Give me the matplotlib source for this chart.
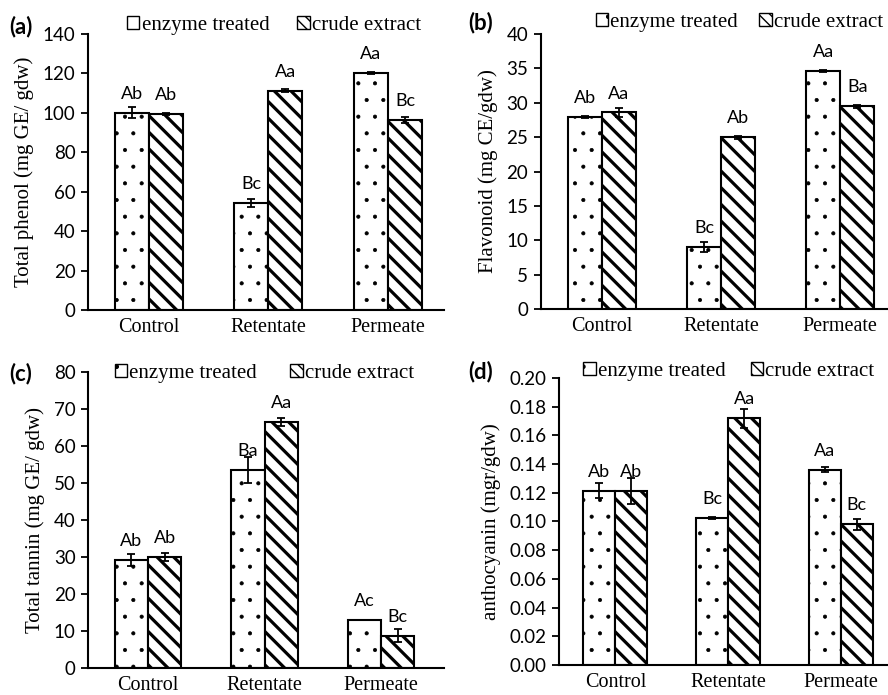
import matplotlib
matplotlib.use('Agg')
import matplotlib.pyplot as plt
import numpy as np
from matplotlib.patches import Rectangle
from matplotlib.ticker import FormatStrFormatter

categories = ['Control', 'Retentate', 'Permeate']
series_names = ['enzyme treated', 'crude extract']

phenol_enz = [100.0, 54.3, 120.2]
phenol_enz_err = [2.8, 1.8, 0.4]
phenol_crude = [99.3, 111.3, 96.5]
phenol_crude_err = [0.4, 0.8, 1.6]
phenol_lbl_enz = ['Ab', 'Bc', 'Aa']
phenol_lbl_crude = ['Ab', 'Aa', 'Bc']

flav_enz = [28.0, 9.0, 34.6]
flav_enz_err = [0.15, 0.7, 0.1]
flav_crude = [28.6, 25.0, 29.5]
flav_crude_err = [0.6, 0.2, 0.2]
flav_lbl_enz = ['Ab', 'Bc', 'Aa']
flav_lbl_crude = ['Aa', 'Ab', 'Ba']

tannin_enz = [29.2, 53.5, 13.0]
tannin_enz_err = [1.5, 3.6, 0.0]
tannin_crude = [30.0, 66.5, 8.7]
tannin_crude_err = [1.2, 1.0, 1.8]
tannin_lbl_enz = ['Ab', 'Ba', 'Ac']
tannin_lbl_crude = ['Ab', 'Aa', 'Bc']

antho_enz = [0.1215, 0.1025, 0.136]
antho_enz_err = [0.005, 0.0008, 0.0018]
antho_crude = [0.121, 0.172, 0.098]
antho_crude_err = [0.009, 0.0065, 0.004]
antho_lbl_enz = ['Ab', 'Bc', 'Aa']
antho_lbl_crude = ['Ab', 'Aa', 'Bc']

SERIF = 'Liberation Serif'
SANS = 'Lato'

fig = plt.figure(figsize=(8.88, 6.95), dpi=100)

# [left, bottom, width, height], xlim, ylim, ticks, ylabel, panel tag, data
panels = [
    dict(rect=[0.0991, 0.554, 0.401, 0.397], xlim=(-0.51, 2.47), ylim=(0, 140), step=20,
         ylabel='Total phenol (mg GE/ gdw)', tag='(a)', fmt='%d',
         enz=phenol_enz, enz_err=phenol_enz_err, crude=phenol_crude, crude_err=phenol_crude_err,
         lbl_enz=phenol_lbl_enz, lbl_crude=phenol_lbl_crude,
         tag_xy=(0.010, 0.962), leg_xy=(0.143, 0.963), colsp=1.35),
    dict(rect=[0.609, 0.5554, 0.391, 0.3956], xlim=(-0.51, 2.40), ylim=(0, 40), step=5,
         ylabel='Flavonoid (mg CE/gdw)', tag='(b)', fmt='%d',
         enz=flav_enz, enz_err=flav_enz_err, crude=flav_crude, crude_err=flav_crude_err,
         lbl_enz=flav_lbl_enz, lbl_crude=flav_lbl_crude,
         tag_xy=(0.527, 0.967), leg_xy=(0.671, 0.968), colsp=1.0),
    dict(rect=[0.0991, 0.0388, 0.401, 0.426], xlim=(-0.515, 2.54), ylim=(0, 80), step=10,
         ylabel='Total tannin (mg GE/ gdw)', tag='(c)', fmt='%d',
         enz=tannin_enz, enz_err=tannin_enz_err, crude=tannin_crude, crude_err=tannin_crude_err,
         lbl_enz=tannin_lbl_enz, lbl_crude=tannin_lbl_crude,
         tag_xy=(0.010, 0.463), leg_xy=(0.129, 0.463), colsp=1.6),
    dict(rect=[0.6295, 0.0432, 0.3705, 0.4129], xlim=(-0.50, 2.42), ylim=(0, 0.20), step=0.02,
         ylabel='anthocyanin (mgr/gdw)', tag='(d)', fmt='%.2f',
         enz=antho_enz, enz_err=antho_enz_err, crude=antho_crude, crude_err=antho_crude_err,
         lbl_enz=antho_lbl_enz, lbl_crude=antho_lbl_crude,
         tag_xy=(0.527, 0.465), leg_xy=(0.657, 0.466), colsp=1.2),
]

w = 0.285
x = np.arange(len(categories))

for p in panels:
    ax = fig.add_axes(p['rect'])
    with plt.rc_context({'hatch.linewidth': 0.5}):
        ax.bar(x - w / 2, p['enz'], w, color='white', edgecolor='black',
               linewidth=1.5, hatch='.', zorder=2)
    with plt.rc_context({'hatch.linewidth': 2.3}):
        ax.bar(x + w / 2, p['crude'], w, color='white', edgecolor='black',
               linewidth=1.5, hatch='\\\\', zorder=2)
    ax.errorbar(x - w / 2, p['enz'], yerr=p['enz_err'], fmt='none', ecolor='black',
                elinewidth=1.3, capsize=3, capthick=1.3, zorder=3)
    ax.errorbar(x + w / 2, p['crude'], yerr=p['crude_err'], fmt='none', ecolor='black',
                elinewidth=1.3, capsize=3, capthick=1.3, zorder=3)

    for xi, v, t in zip(x - w / 2, p['enz'], p['lbl_enz']):
        ax.annotate(t, (xi, v), xytext=(0, 10), textcoords='offset points',
                    ha='center', va='baseline', fontsize=13, family=SANS)
    for xi, v, t in zip(x + w / 2, p['crude'], p['lbl_crude']):
        ax.annotate(t, (xi, v), xytext=(0, 10), textcoords='offset points',
                    ha='center', va='baseline', fontsize=13, family=SANS)

    ax.set_xlim(*p['xlim'])
    ax.set_ylim(*p['ylim'])
    ax.set_yticks(np.arange(0, p['ylim'][1] + p['step'] / 2, p['step']))
    ax.yaxis.set_major_formatter(FormatStrFormatter(p['fmt']))
    ax.set_xticks(x)
    ax.set_xticklabels(categories, family=SERIF, fontsize=14.5)
    for lab in ax.get_yticklabels():
        lab.set_family(SANS)
        lab.set_fontsize(13.5)
    ax.tick_params(axis='x', length=0, pad=6)
    ax.tick_params(axis='y', direction='out', length=5, width=1.3, pad=4)
    for s in ['top', 'right']:
        ax.spines[s].set_visible(False)
    for s in ['left', 'bottom']:
        ax.spines[s].set_linewidth(1.5)
    ax.set_ylabel(p['ylabel'], family=SERIF, fontsize=15, labelpad=6)

    fig.text(p['tag_xy'][0], p['tag_xy'][1], p['tag'], family=SANS, fontweight='bold',
             fontsize=16, ha='left', va='center')

    h1 = Rectangle((0, 0), 1, 1, facecolor='white', edgecolor='black', linewidth=1.0, hatch='.')
    h2 = Rectangle((0, 0), 1, 1, facecolor='white', edgecolor='black', linewidth=1.0, hatch='\\\\\\')
    fig.legend([h1, h2], series_names, loc='center left',
               bbox_to_anchor=p['leg_xy'], bbox_transform=fig.transFigure,
               ncol=2, frameon=False, prop={'family': SERIF, 'size': 15},
               handlelength=0.6, handleheight=0.6, handletextpad=0.1,
               columnspacing=p['colsp'], borderpad=0, borderaxespad=0)

fig.savefig('out.png', dpi=100)
